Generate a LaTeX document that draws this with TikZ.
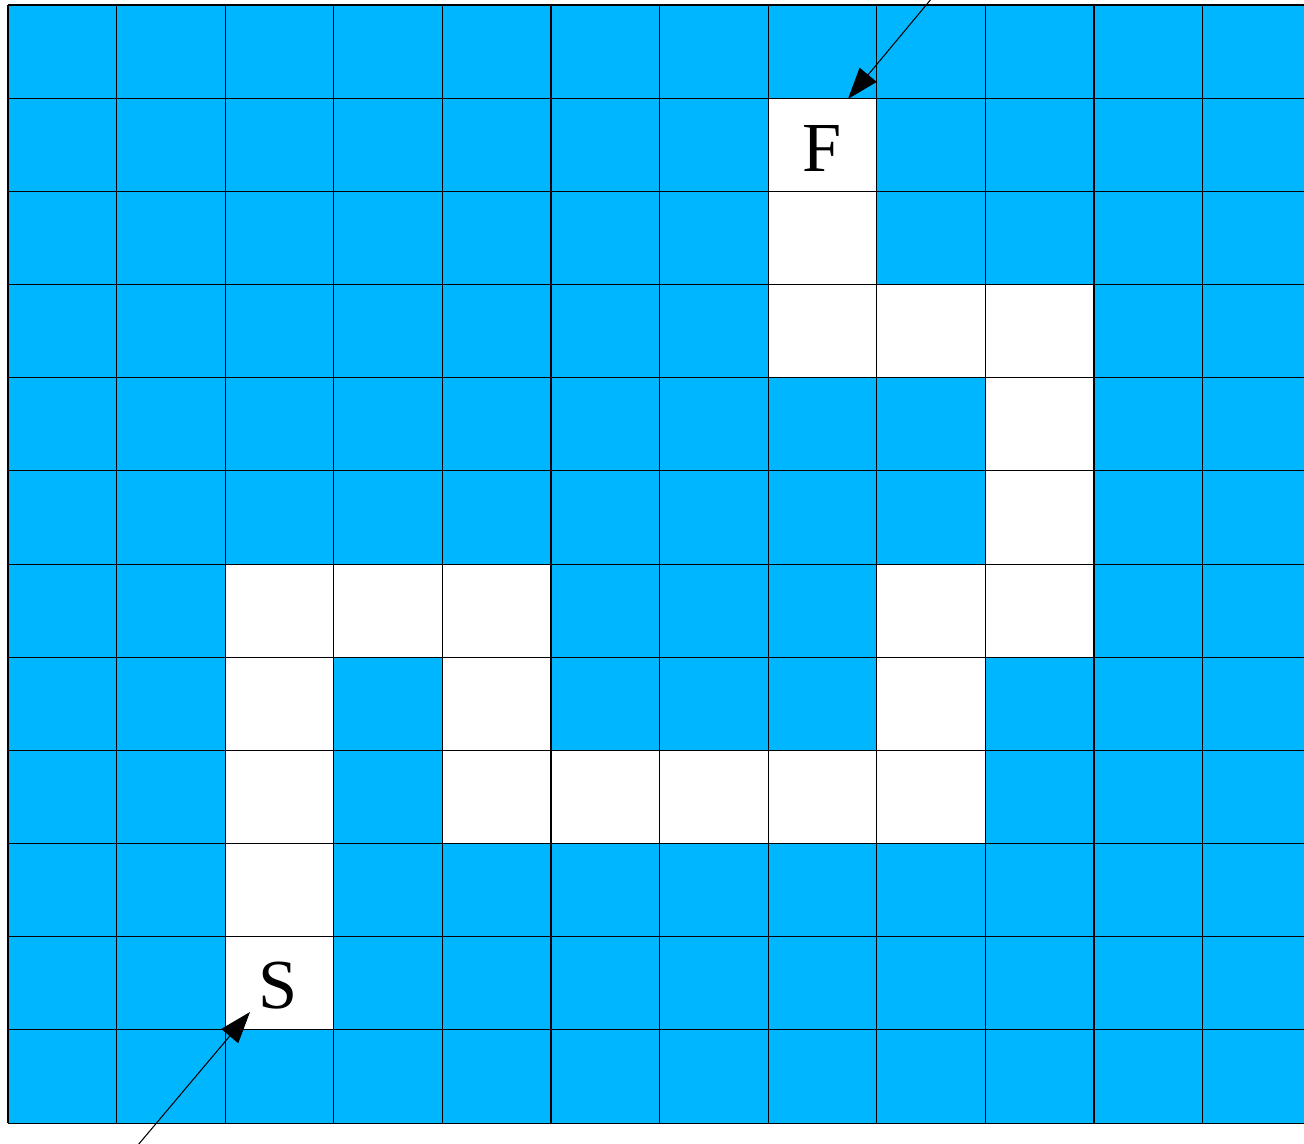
\documentclass[tikz,border=0pt]{standalone}
\usepackage{fontspec}
\setmainfont{Liberation Serif}
\usetikzlibrary{arrows.meta}
\definecolor{mazeblue}{RGB}{0,183,255}

\begin{document}
\begin{tikzpicture}[x=0.02cm, y=-0.02cm,
    gridline/.style={line width=0.6pt, black},
    celltext/.style={font=\fontsize{40}{44}\selectfont, inner sep=0pt},
    pointer/.style={line width=0.6pt, -{Triangle[length=0.63cm, width=0.44cm]}}]
    \useasboundingbox (0,0) rectangle (1304,1143);

    % Walls
    \fill[mazeblue] (8,5) rectangle (1304,1123);

    % Open path from S to F
    \foreach \c/\r in {7/1, 7/2, 7/3, 8/3, 9/3, 9/4, 9/5,
                      2/6, 3/6, 4/6, 8/6, 9/6, 2/7, 4/7, 8/7,
                      2/8, 4/8, 5/8, 6/8, 7/8, 8/8, 2/9, 2/10}
        \fill[white] ({8+108.6*\c},{5+93.17*\r}) rectangle ({8+108.6*(\c+1)},{5+93.17*(\r+1)});

    % Grid
    \foreach \c in {0,...,11}
        \draw[gridline] ({8+108.6*\c},5) -- ({8+108.6*\c},1123);
    \foreach \r in {0,...,12}
        \draw[gridline] (8,{5+93.17*\r}) -- (1304,{5+93.17*\r});

    % Start and finish
    \node[celltext] (F) at (822,148) {F};
    \node[celltext] (S) at (278,986) {S};
    \coordinate (finin) at (932,-2);
    \coordinate (startin) at (138,1145);
    \draw[pointer] (finin) -- ([shift={(26,-49)}]F.center);
    \draw[pointer] (startin) -- ([shift={(-28,26)}]S.center);
\end{tikzpicture}
\end{document}
